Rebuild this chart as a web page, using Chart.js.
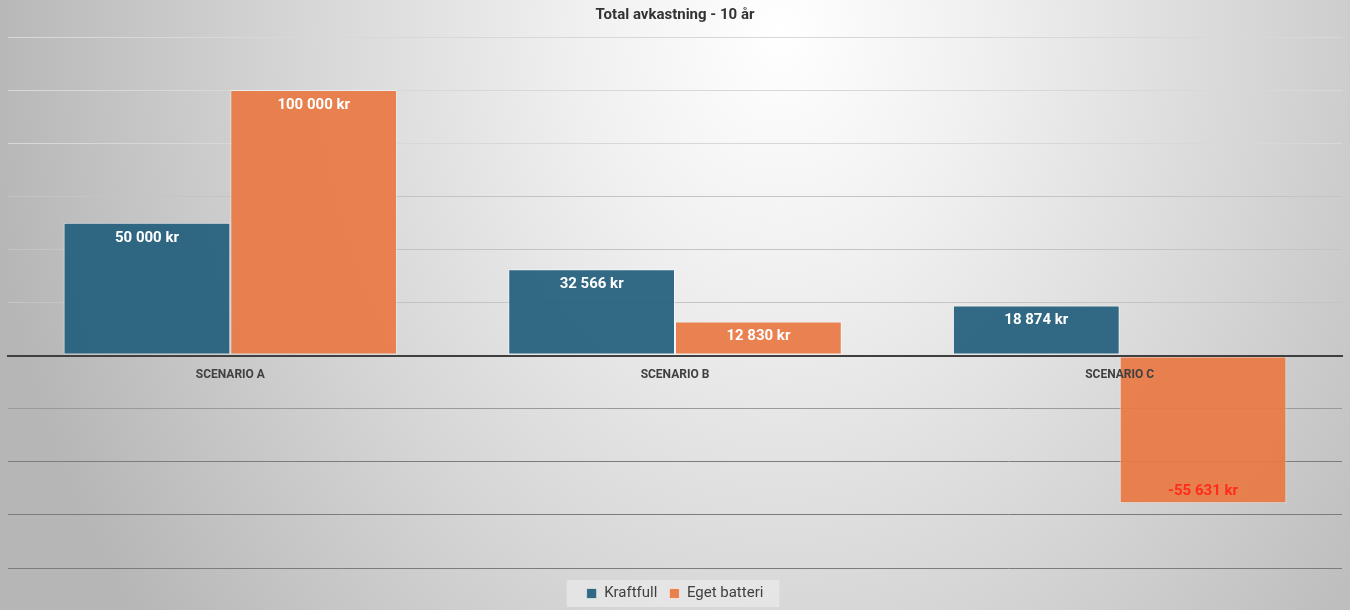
<!DOCTYPE html>
<html>
<head>
<meta charset="utf-8">
<script src="https://cdn.jsdelivr.net/npm/chart.js@4.4.1/dist/chart.umd.min.js"></script>
<style>
  html, body { margin: 0; padding: 0; background: #fff; }
  #wrap { width: 1350px; height: 610px; }
</style>
</head>
<body>
<div id="wrap"><canvas id="chart"></canvas></div>
<script>
const categories = ['SCENARIO A', 'SCENARIO B', 'SCENARIO C'];
const kraftfull = [50000, 32566, 18874];
const egetBatteri = [100000, 12830, -55631];
const seriesNames = ['Kraftfull', 'Eget batteri'];

const formatKr = (v) => {
    const s = Math.abs(Math.round(v)).toString().replace(/\B(?=(\d{3})+(?!\d))/g, ' ');
    return (v < 0 ? '-' : '') + s + ' kr';
};

// background gradient + legend panel
const backdrop = {
    id: 'backdrop',
    afterLayout(chart) {
        // nudge the legend down a little, closer to the bottom edge
        const lg = chart.legend;
        if (!lg) return;
        const dy = 6;
        lg.top += dy;
        lg.bottom += dy;
        (lg.legendHitBoxes || []).forEach(b => { b.top += dy; });
    },
    beforeDraw(chart) {
        const { ctx } = chart;
        ctx.save();
        ctx.translate(780, 30);
        ctx.scale(1, 1.25);
        const g = ctx.createRadialGradient(0, 0, 0, 0, 0, 800);
        g.addColorStop(0, '#ffffff');
        g.addColorStop(0.25, '#f0f0f0');
        g.addColorStop(0.6, '#d6d6d6');
        g.addColorStop(1, '#b6b6b6');
        ctx.fillStyle = g;
        ctx.fillRect(-800, -100, 1800, 600);
        ctx.restore();

        const lg = chart.legend;
        if (lg && lg.legendHitBoxes && lg.legendHitBoxes.length) {
            const boxes = lg.legendHitBoxes;
            const x0 = Math.min(...boxes.map(b => b.left)) - 20;
            const x1 = Math.max(...boxes.map(b => b.left + b.width)) + 16;
            const cy = lg.top + lg.options.labels.padding + 7.5;
            ctx.save();
            ctx.fillStyle = 'rgba(240,240,240,0.55)';
            ctx.fillRect(x0, cy - 13.5, x1 - x0, 27);
            ctx.restore();
        }
    }
};

// value labels inside the end of each bar
const barLabels = {
    id: 'barLabels',
    afterDatasetsDraw(chart) {
        const { ctx } = chart;
        ctx.save();
        ctx.font = 'bold 15px Roboto';
        ctx.textAlign = 'center';
        ctx.textBaseline = 'middle';
        chart.data.datasets.forEach((ds, i) => {
            chart.getDatasetMeta(i).data.forEach((bar, j) => {
                const v = ds.data[j];
                const y = v >= 0 ? bar.y + 15 : bar.y - 12;
                ctx.fillStyle = v >= 0 ? '#ffffff' : '#ff2b1c';
                ctx.fillText(formatKr(v), bar.x, y);
            });
        });
        ctx.restore();
    }
};

const gridColor = (ctx) => {
    const v = ctx.tick ? ctx.tick.value : 0;
    if (v === 0) return '#3f3f3f';
    if (v >= 80000) return '#d8d8d8';
    if (v >= 20000) return '#c4c4c4';
    if (v === -20000) return '#9a9a9a';
    return '#7c7c7c';
};

new Chart(document.getElementById('chart'), {
    type: 'bar',
    data: {
        labels: categories,
        datasets: [{
            label: seriesNames[0],
            data: kraftfull,
            backgroundColor: 'rgba(36, 96, 125, 0.93)',
            borderColor: 'rgba(255, 255, 255, 0.55)',
            borderWidth: 1,
            borderSkipped: false
        }, {
            label: seriesNames[1],
            data: egetBatteri,
            backgroundColor: 'rgba(232, 120, 68, 0.93)',
            borderColor: 'rgba(255, 255, 255, 0.55)',
            borderWidth: 1,
            borderSkipped: false
        }]
    },
    options: {
        responsive: true,
        maintainAspectRatio: false,
        animation: false,
        categoryPercentage: 0.75,
        barPercentage: 1,
        layout: { padding: { left: 8, right: 8, top: 0, bottom: 5 } },
        plugins: {
            title: {
                display: true,
                text: 'Total avkastning - 10 år',
                color: '#333333',
                font: { family: 'Roboto', size: 15, weight: 'bold' },
                padding: { top: 6, bottom: 13 }
            },
            legend: {
                position: 'bottom',
                labels: {
                    boxWidth: 10,
                    boxHeight: 10,
                    padding: 12,
                    color: '#404040',
                    font: { family: 'Roboto', size: 15 }
                }
            },
            tooltip: { enabled: false }
        },
        scales: {
            x: {
                position: { y: 0 },
                grid: { display: false },
                border: { display: true, color: '#3f3f3f', width: 2, z: 1 },
                ticks: {
                    z: 1,
                    color: '#404040',
                    padding: 4,
                    font: { family: 'Roboto', size: 12, weight: 'bold' }
                }
            },
            y: {
                min: -80000,
                max: 120000,
                ticks: { display: false, stepSize: 20000 },
                border: { display: false },
                grid: { color: gridColor, lineWidth: (c) => (c.tick && c.tick.value === 0 ? 2 : 1), drawTicks: false }
            }
        }
    },
    plugins: [backdrop, barLabels]
});
</script>
</body>
</html>
